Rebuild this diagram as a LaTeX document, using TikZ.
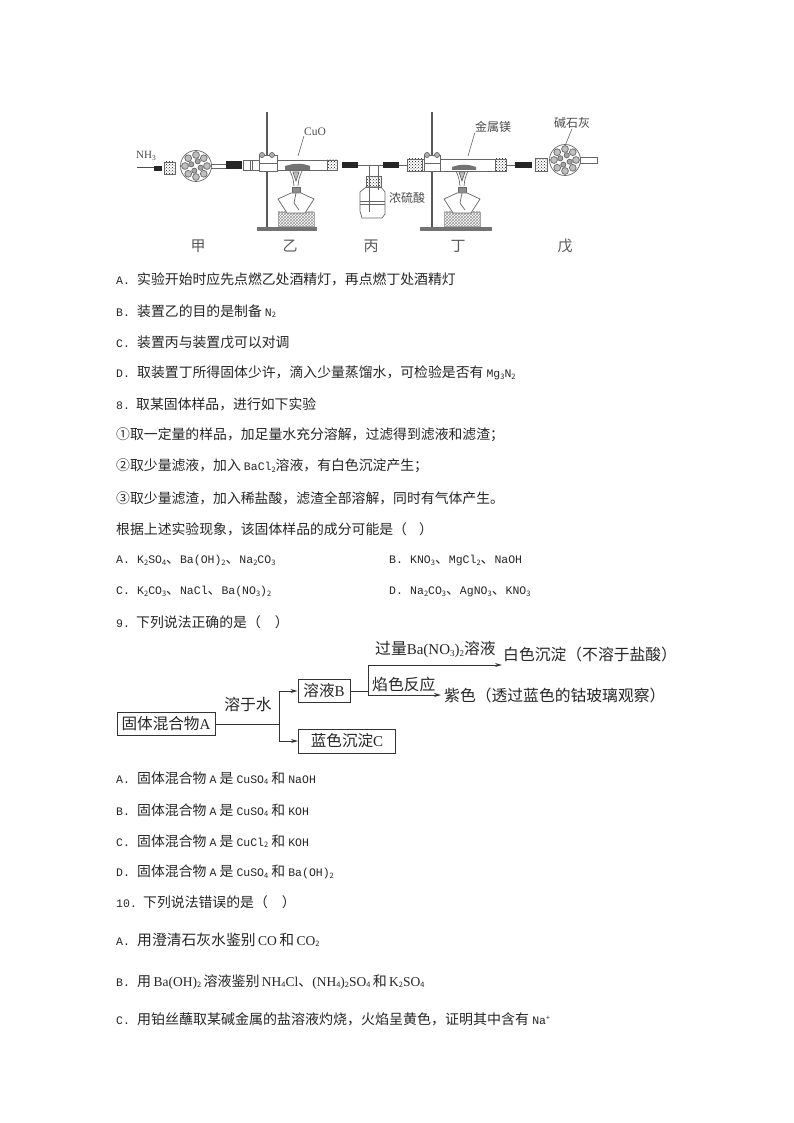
\documentclass[tikz,border=0pt]{standalone}
\usepackage{fontspec}
\setmainfont{Noto Sans CJK SC}
\newfontfamily\lat{Liberation Mono}
\newfontfamily\rom{Liberation Serif}
\usetikzlibrary{patterns,arrows.meta}

\newcommand{\dn}[1]{\raisebox{-1.5pt}{\fontsize{7.5}{8}\selectfont #1}}
\newcommand{\opt}[1]{\makebox[21pt][l]{\lat\fontsize{11.5}{12}\selectfont #1.}}
\newcommand{\mo}[1]{{\lat\fontsize{11.5}{12}\selectfont #1}}
\newcommand{\rn}[1]{{\rom\fontsize{13.5}{14}\selectfont #1}}
\newcommand{\fl}[1]{{\rom\fontsize{15}{15}\selectfont #1}}

\tikzset{
	qline/.style={anchor=west,inner sep=0pt,yshift=-1pt,font=\fontsize{13.85}{14}\selectfont,text=black!85},
	applabel/.style={inner sep=0pt,font=\fontsize{12}{13}\selectfont,text=black!70},
	stagelabel/.style={inner sep=0pt,font=\fontsize{15}{16}\selectfont,text=black!65},
	flowbox/.style={draw=black!80,line width=1pt,inner sep=0pt,font=\fontsize{15.6}{16}\selectfont,text=black!85},
	flowtext/.style={inner sep=0pt,font=\fontsize{15.8}{16}\selectfont,text=black!85},
	flowline/.style={draw=black!80,line width=0.9pt},
	flowarrow/.style={flowline,-{Stealth[length=7pt,width=4pt]}},
	glass/.style={draw=black!60,line width=0.7pt},
	rubber/.style={fill=black!85,draw=none},
	cork/.style={glass,pattern=crosshatch dots,pattern color=black!90},
	sandblock/.style={glass,draw=black!35,pattern=crosshatch,pattern color=black!40},
	lamp/.pic={
		%% Flame
		\draw[glass] (-6,-22) .. controls (-3,-15) .. (-2,-7) (6,-22) .. controls (3,-15) .. (2,-7);
		\draw[glass,fill=black!25] (-3,-21) -- (0,-12) -- (3,-21) -- cycle;
		\draw[glass,fill=black!45] (-4,-6) rectangle (4,0);
		%% Block
		\draw[sandblock] (-18,19) rectangle (18,33);
		%% Body
		\draw[glass,fill=white] (-5,0) -- (-18,6) -- (-9,20) -- (9,20) -- (18,6) -- (5,0) -- cycle;
		\draw[glass] (0,0) -- (-2,10) -- (3,17);
	},
	granule/.pic={
		\draw[glass,fill=white] (0,0) circle[radius=15.5pt];
		\foreach \a in {0,45,...,315}
			\draw[glass,fill=black!25] (\a:11) circle[radius=3.4pt];
		\foreach \a in {20,110,200,290}
			\draw[glass,fill=black!35] (\a:5) circle[radius=2.6pt];
	}
}

\begin{document}
\begin{tikzpicture}[x=1pt,y=-1pt]
	\useasboundingbox[fill=white] (0,0) rectangle (794,1123);

	% Apparatus
	%% Gas in and first bulb
	\node[applabel] (labelNH) at (146,156) {\rom\fontsize{11}{12}\selectfont NH\dn{3}};
	\draw[black!70,line width=1pt] (137,168) -- (155,168);
	\fill[rubber] (154,166) rectangle (162,171);
	\draw[cork] (164,162) rectangle (175,174);
	\pic at (196,166) {granule};
	\draw[glass] (211,164) -- (226,164) (211,168) -- (226,168);
	\fill[rubber] (226,161) rectangle (242,169);

	%% Stand and tube of the second stage
	\draw[black!65,line width=1.2pt] (267,112) -- (267,227);
	\fill[black!55] (257,227) rectangle (317,231);
	\draw[glass,line width=0.9pt] (243,160) rectangle (337,170);
	\draw[cork] (327,160) rectangle (337,170);
	\draw[glass,fill=white] (250,160) rectangle (252,170);
	\draw[glass,fill=white] (259,155) -- (277,155) -- (277,171) -- (259,171) -- cycle;
	\draw[glass] (259,163) -- (277,163);
	\draw[glass,fill=black!30] (262,155) circle[radius=2.5pt] (272,155) circle[radius=2.5pt];
	\fill[black!55] (285,166) .. controls (295,163) and (302,163) .. (310,166) -- (310,170) -- (285,170) -- cycle;
	\pic at (296,193) {lamp};
	\node[applabel] (labelCuO) at (315,132) {\rom\fontsize{11.5}{12}\selectfont CuO};
	\coordinate (tipCuO) at (298,156);
	\draw[black!60,line width=0.6pt] (labelCuO.south west) -- (tipCuO);

	%% Middle bottle
	\fill[rubber] (342,162) rectangle (358,168);
	\draw[glass] (358,165) -- (383,165);
	\draw[glass] (369,165) -- (369,212) (378,165) -- (378,190);
	\draw[cork] (366,176) rectangle (381,187);
	\draw[glass] (360,211) -- (360,192) -- (366,187) -- (381,187) -- (385,192) -- (385,214) -- (382,218) -- (362,218) -- cycle;
	\draw[glass] (360,201) -- (385,201) (360,204) -- (385,204);
	\node[applabel] (labelAcid) at (407,198) {浓硫酸};
	\fill[rubber] (383,162) rectangle (399,168);
	\draw[glass] (399,165) -- (408,165);

	%% Stand and tube of the fourth stage
	\draw[black!65,line width=1.2pt] (432,112) -- (432,227);
	\fill[black!55] (420,227) rectangle (492,231);
	\draw[glass,line width=0.9pt] (422,159) rectangle (506,171);
	\draw[cork] (407,159) rectangle (422,171);
	\draw[cork] (495,159) rectangle (506,171);
	\draw[glass,fill=white] (424,155) -- (440,155) -- (440,171) -- (424,171) -- cycle;
	\draw[glass] (424,163) -- (440,163);
	\draw[glass,fill=black!30] (427,155) circle[radius=2.5pt] (437,155) circle[radius=2.5pt];
	\fill[black!55] (452,167) .. controls (460,164) and (468,164) .. (476,167) -- (476,170) -- (452,170) -- cycle;
	\pic at (462,193) {lamp};
	\node[applabel] (labelMg) at (493,127) {金属镁};
	\coordinate (tipMg) at (468,156);
	\draw[black!60,line width=0.6pt] (labelMg.south west) -- (tipMg);

	%% Last bulb
	\draw[glass] (507,165) -- (515,165);
	\fill[rubber] (515,162) rectangle (532,168);
	\draw[cork] (535,158) rectangle (547,171);
	\pic at (565,160) {granule};
	\draw[glass] (580,157) rectangle (597,163);
	\node[applabel] (labelLime) at (572,123) {碱石灰};
	\coordinate (tipLime) at (565,146);
	\draw[black!60,line width=0.6pt] (labelLime.south) -- (tipLime);

	%% Stage names
	\node[stagelabel] (stageA) at (198,246) {甲};
	\node[stagelabel] (stageB) at (290,246) {乙};
	\node[stagelabel] (stageC) at (371,246) {丙};
	\node[stagelabel] (stageD) at (458,246) {丁};
	\node[stagelabel] (stageE) at (565,246) {戊};

	% Question 7 options
	\node[qline] (q7a) at (116,278) {\opt{A}实验开始时应先点燃乙处酒精灯，再点燃丁处酒精灯};
	\node[qline] (q7b) at (116,310) {\opt{B}装置乙的目的是制备 \mo{N}\dn{2}};
	\node[qline] (q7c) at (116,341) {\opt{C}装置丙与装置戊可以对调};
	\node[qline] (q7d) at (116,372) {\opt{D}取装置丁所得固体少许，滴入少量蒸馏水，可检验是否有 \mo{Mg}\dn{3}\mo{N}\dn{2}};

	% Question 8
	\node[qline] (q8) at (116,403) {\makebox[20pt][l]{\mo{8.}}取某固体样品，进行如下实验};
	\node[qline] (q8i) at (116,434) {①取一定量的样品，加足量水充分溶解，过滤得到滤液和滤渣；};
	\node[qline] (q8ii) at (116,465) {②取少量滤液，加入 \mo{BaCl}\dn{2}溶液，有白色沉淀产生；};
	\node[qline] (q8iii) at (116,497) {③取少量滤渣，加入稀盐酸，滤渣全部溶解，同时有气体产生。};
	\node[qline] (q8q) at (116,528) {根据上述实验现象，该固体样品的成分可能是（\hspace{12pt}）};
	\node[qline] (q8a) at (116,560) {\opt{A}\mo{K}\dn{2}\mo{SO}\dn{4}、\mo{Ba(OH)}\dn{2}、\mo{Na}\dn{2}\mo{CO}\dn{3}};
	\node[qline] (q8b) at (389,560) {\opt{B}\mo{KNO}\dn{3}、\mo{MgCl}\dn{2}、\mo{NaOH}};
	\node[qline] (q8c) at (116,591) {\opt{C}\mo{K}\dn{2}\mo{CO}\dn{3}、\mo{NaCl}、\mo{Ba(NO}\dn{3}\mo{)}\dn{2}};
	\node[qline] (q8d) at (389,591) {\opt{D}\mo{Na}\dn{2}\mo{CO}\dn{3}、\mo{AgNO}\dn{3}、\mo{KNO}\dn{3}};

	% Question 9
	\node[qline] (q9) at (116,621) {\makebox[20pt][l]{\mo{9.}}下列说法正确的是（\hspace{14pt}）};

	%% Flow chart
	\node[flowbox,minimum width=98pt,minimum height=23pt] (mixA) at (166,724) {固体混合物\fl{A}};
	\node[flowbox,minimum width=52pt,minimum height=23pt] (solB) at (324,691) {溶液\fl{B}};
	\node[flowbox,minimum width=97pt,minimum height=24pt] (precC) at (347,741) {蓝色沉淀\fl{C}};
	\coordinate (forkA) at (279,724);
	\coordinate (forkB) at (368,691);
	\coordinate (endWhite) at (502,665);
	\coordinate (endPurple) at (441,695);
	\draw[flowline] (mixA) -- (forkA);
	\draw[flowarrow] (forkA) |- (solB);
	\draw[flowarrow] (forkA) |- (precC);
	\draw[flowline] (solB) -- (forkB);
	\draw[flowarrow] (forkB) |- (endWhite);
	\draw[flowarrow] (forkB) |- (endPurple);
	\node[flowtext] (labelWater) at (248,704) {溶于水};
	\node[flowtext,anchor=west] (labelBa) at (375,649) {过量\fl{Ba(NO}{\rom\raisebox{-2pt}{\fontsize{9}{9}\selectfont 3}}\fl{)}{\rom\raisebox{-2pt}{\fontsize{9}{9}\selectfont 2}}溶液};
	\node[flowtext,anchor=west] (labelFlame) at (372,684) {焰色反应};
	\node[flowtext,anchor=west] (labelWhite) at (503,654) {白色沉淀（不溶于盐酸）};
	\node[flowtext,anchor=west] (labelPurple) at (444,695) {紫色（透过蓝色的钴玻璃观察）};

	%% Options of question 9
	\node[qline] (q9a) at (116,777) {\opt{A}固体混合物 \mo{A} 是 \mo{CuSO}\dn{4} 和 \mo{NaOH}};
	\node[qline] (q9b) at (116,809) {\opt{B}固体混合物 \mo{A} 是 \mo{CuSO}\dn{4} 和 \mo{KOH}};
	\node[qline] (q9c) at (116,840) {\opt{C}固体混合物 \mo{A} 是 \mo{CuCl}\dn{2} 和 \mo{KOH}};
	\node[qline] (q9d) at (116,871) {\opt{D}固体混合物 \mo{A} 是 \mo{CuSO}\dn{4} 和 \mo{Ba(OH)}\dn{2}};

	% Question 10
	\node[qline] (q10) at (116,901) {\makebox[27pt][l]{\mo{10.}}下列说法错误的是（\hspace{14pt}）};
	\node[qline,font=\fontsize{14.8}{15}\selectfont] (q10a) at (116,939) {\opt{A}用澄清石灰水鉴别\,\rn{CO}\,和\,\rn{CO}\dn{2}};
	\node[qline,font=\fontsize{14}{15}\selectfont] (q10b) at (116,981) {\opt{B}用\,\rn{Ba(OH)}\dn{2}\,溶液鉴别\,\rn{NH}\dn{4}\rn{Cl}、\rn{(NH}\dn{4}\rn{)}\dn{2}\rn{SO}\dn{4}\,和\,\rn{K}\dn{2}\rn{SO}\dn{4}};
	\node[qline,font=\fontsize{14}{15}\selectfont] (q10c) at (116,1018) {\opt{C}用铂丝蘸取某碱金属的盐溶液灼烧，火焰呈黄色，证明其中含有 \mo{Na}\raisebox{4pt}{\fontsize{7}{7}\selectfont +}};
\end{tikzpicture}
\end{document}
